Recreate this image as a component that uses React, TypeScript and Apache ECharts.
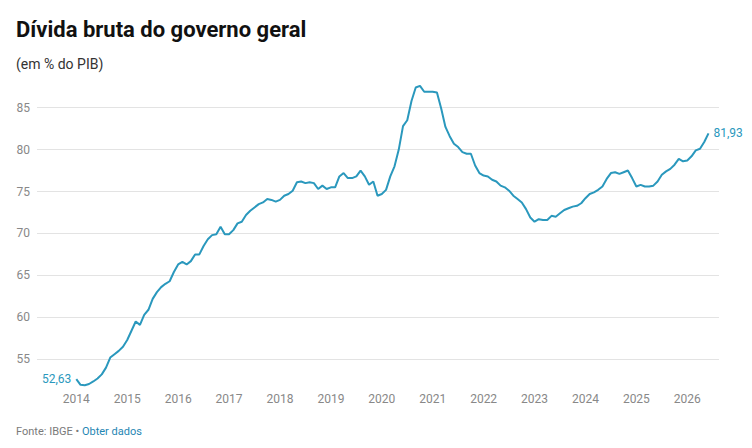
import React, { useEffect, useRef } from "react";
import * as echarts from "echarts";

// Monthly gross general government debt (% of GDP), Jan 2014 – Jun 2026
const startYear = 2014;
const debt: number[] = [
  // 2014
  52.63, 51.95, 51.9, 52.05, 52.35, 52.7, 53.2, 54.0, 55.2, 55.6, 56.0, 56.5,
  // 2015
  57.3, 58.4, 59.5, 59.1, 60.3, 60.9, 62.2, 63.0, 63.6, 64.0, 64.3, 65.4,
  // 2016
  66.3, 66.6, 66.3, 66.7, 67.5, 67.5, 68.5, 69.3, 69.8, 69.9, 70.8, 69.9,
  // 2017
  69.9, 70.4, 71.2, 71.4, 72.2, 72.7, 73.1, 73.5, 73.7, 74.1, 74.0, 73.8,
  // 2018
  74.0, 74.5, 74.7, 75.1, 76.1, 76.2, 76.0, 76.1, 76.0, 75.3, 75.7, 75.3,
  // 2019
  75.5, 75.5, 76.8, 77.2, 76.6, 76.6, 76.8, 77.5, 76.8, 75.8, 76.2, 74.5,
  // 2020
  74.7, 75.2, 76.8, 78.0, 80.0, 82.8, 83.5, 85.8, 87.4, 87.6, 86.9, 86.9,
  // 2021
  86.9, 86.8, 84.9, 82.7, 81.6, 80.7, 80.3, 79.7, 79.5, 79.5, 78.1, 77.2,
  // 2022
  76.9, 76.8, 76.4, 76.2, 75.7, 75.5, 75.1, 74.5, 74.1, 73.7, 72.9, 71.9,
  // 2023
  71.4, 71.7, 71.6, 71.6, 72.1, 72.0, 72.4, 72.8, 73.0, 73.2, 73.3, 73.6,
  // 2024
  74.2, 74.7, 74.9, 75.2, 75.6, 76.5, 77.2, 77.3, 77.1, 77.3, 77.5, 76.6,
  // 2025
  75.6, 75.8, 75.6, 75.6, 75.7, 76.2, 77.0, 77.4, 77.7, 78.2, 78.9, 78.6,
  // 2026
  78.7, 79.2, 79.9, 80.1, 80.9, 81.93,
];

const yearTicks: number[] = [2014, 2015, 2016, 2017, 2018, 2019, 2020, 2021, 2022, 2023, 2024, 2025, 2026];
const titleText = "Dívida bruta do governo geral";
const subtitleText = "(em % do PIB)";
const sourceText = "Fonte: IBGE • ";
const linkText = "Obter dados";

const LINE = "#2a98bd";
const fmt = (v: number) => v.toFixed(2).replace(".", ",");

export default function App() {
  const ref = useRef<HTMLDivElement>(null);
  useEffect(() => {
    if (!ref.current) return;
    const chart = echarts.init(ref.current, undefined, { renderer: "svg" });
    const last = debt.length - 1;
    const data = debt.map((v, i) => {
      const item: any = { value: [startYear + i / 12, v] };
      if (i === 0 || i === last) {
        item.label = {
          show: true,
          position: i === 0 ? "left" : "right",
          distance: 5,
          formatter: () => fmt(v),
          color: LINE,
          fontSize: 12,
          fontFamily: "Roboto",
        };
      }
      return item;
    });
    chart.setOption({
      animation: false,
      backgroundColor: "#ffffff",
      textStyle: { fontFamily: "Roboto" },
      title: [
        {
          text: titleText,
          left: 16,
          top: 18.5,
          padding: 0,
          textStyle: { fontSize: 22, fontWeight: "bold", color: "#111111", fontFamily: "Roboto" },
        },
        {
          text: subtitleText,
          left: 16,
          top: 56.5,
          padding: 0,
          textStyle: { fontSize: 14, fontWeight: "normal", color: "#333333", fontFamily: "Roboto" },
        },
        {
          text: `{a|${sourceText}}{b|${linkText}}`,
          left: 16,
          top: 426,
          padding: 0,
          textStyle: {
            fontWeight: "normal",
            rich: {
              a: { fontSize: 11, fontWeight: "normal", color: "#7a7a7a", fontFamily: "Roboto" },
              b: { fontSize: 11, fontWeight: "normal", color: "#1f86b3", fontFamily: "Roboto" },
            },
          },
        },
      ],
      grid: {
        left: 37,
        right: 33,
        top: 78.3,
        bottom: 59.4,
        containLabel: false,
        outerBoundsMode: "none",
      },
      xAxis: {
        type: "value",
        min: 2013.228,
        max: 2026.623,
        splitNumber: yearTicks.length,
        axisLine: { show: false },
        axisTick: { show: false },
        splitLine: { show: false },
        axisLabel: {
          margin: 4,
          fontSize: 12,
          color: "#888888",
          fontFamily: "Roboto",
          showMinLabel: false,
          showMaxLabel: false,
          formatter: (v: number) => (yearTicks.includes(Math.round(v)) && Math.abs(v - Math.round(v)) < 1e-6 ? String(Math.round(v)) : ""),
        },
      },
      yAxis: {
        type: "value",
        min: 51.5,
        max: 88.5,
        splitNumber: 7,
        axisLine: { show: false },
        axisTick: { show: false },
        splitLine: {
          show: true,
          showMinLine: false,
          showMaxLine: false,
          lineStyle: { color: "#e3e3e3", width: 1 },
        },
        axisLabel: {
          margin: 7,
          fontSize: 12,
          color: "#888888",
          fontFamily: "Roboto",
          showMinLabel: false,
          showMaxLabel: false,
          formatter: (v: number) => (Math.abs(v % 5) < 1e-6 ? String(v) : ""),
        },
      },
      series: [
        {
          type: "line",
          data,
          showSymbol: true,
          symbol: "circle",
          symbolSize: 0,
          lineStyle: { color: LINE, width: 2 },
          itemStyle: { color: LINE },
          label: { show: false },
          emphasis: { disabled: true },
          silent: true,
        },
      ],
    });
    return () => chart.dispose();
  }, []);
  return (
    <div
      ref={ref}
      style={{ position: "fixed", left: 0, top: 0, width: 752, height: 448, background: "#fff" }}
    />
  );
}
